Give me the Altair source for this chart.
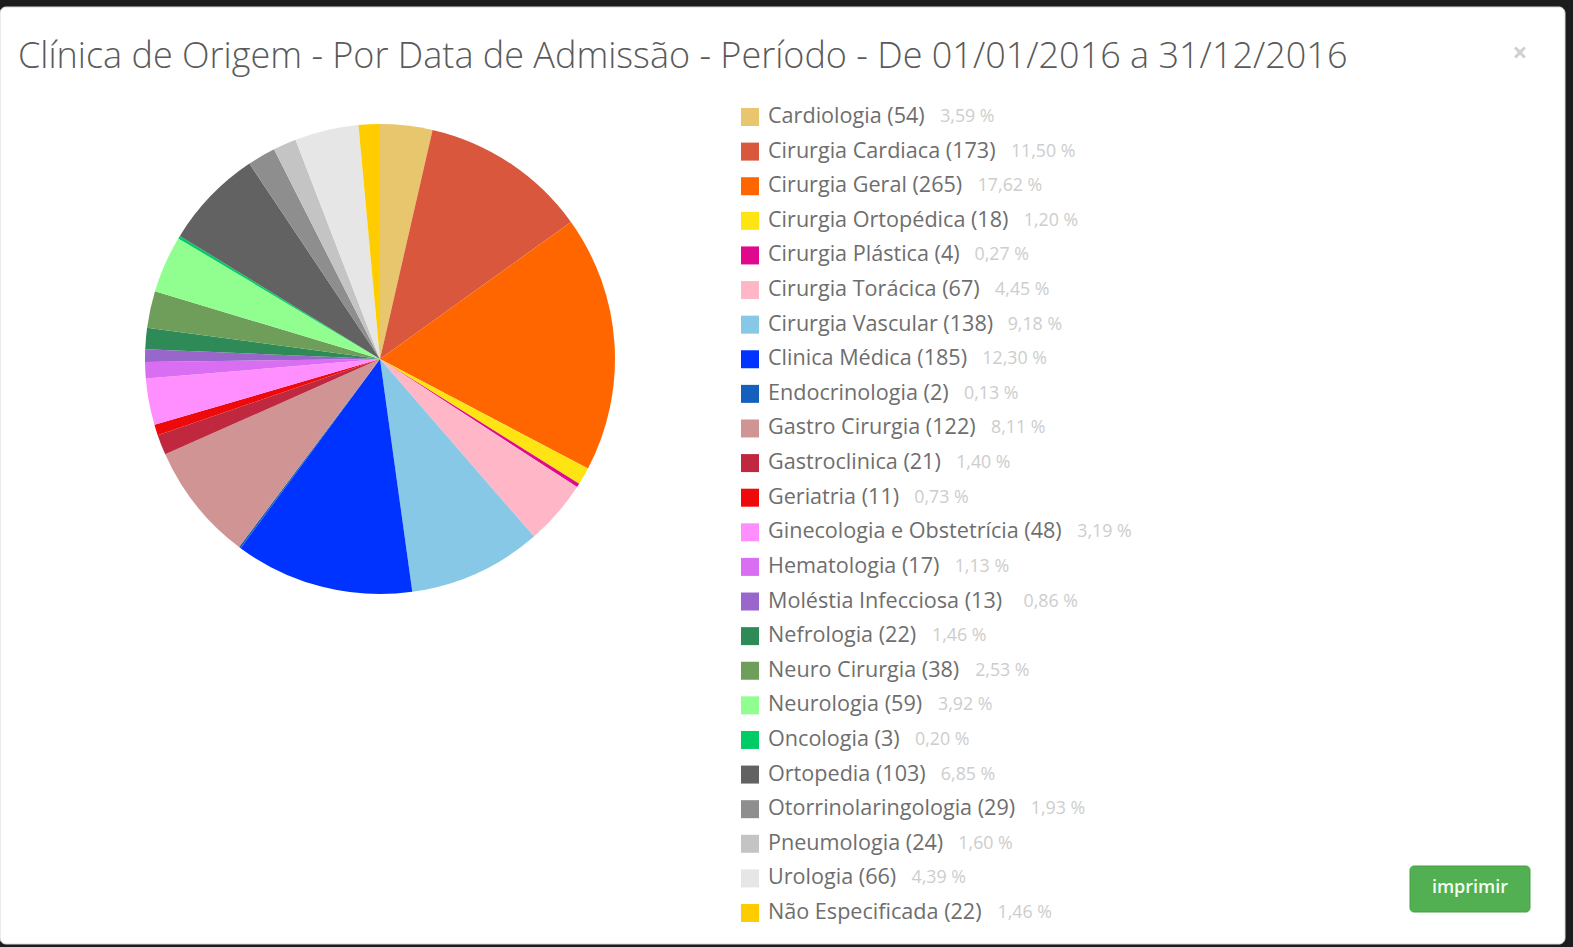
import altair as alt
import pandas as pd

# ---- data ----
names = ["Cardiologia", "Cirurgia Cardiaca", "Cirurgia Geral", "Cirurgia Ortopédica",
         "Cirurgia Plástica", "Cirurgia Torácica", "Cirurgia Vascular", "Clinica Médica",
         "Endocrinologia", "Gastro Cirurgia", "Gastroclinica", "Geriatria",
         "Ginecologia e Obstetrícia", "Hematologia", "Moléstia Infecciosa", "Nefrologia",
         "Neuro Cirurgia", "Neurologia", "Oncologia", "Ortopedia",
         "Otorrinolaringologia", "Pneumologia", "Urologia", "Não Especificada"]
counts = [54, 173, 265, 18, 4, 67, 138, 185, 2, 122, 21, 11, 48, 17, 13, 22, 38, 59, 3,
          103, 29, 24, 66, 22]
colors = ["#E8C66E", "#D9573C", "#FF6600", "#FFE414", "#E0088C", "#FFB6C6", "#86C8E6",
          "#0033FF", "#1560BD", "#D09494", "#C02840", "#EE0A0A", "#FF8EFF", "#DA6EF2",
          "#9966CC", "#2E8B57", "#6E9E5A", "#90FF90", "#00CC66", "#626262",
          "#8E8E8E", "#C4C4C4", "#E6E6E6", "#FFCC00"]
title_text = "Clínica de Origem - Por Data de Admissão - Período - De 01/01/2016 a 31/12/2016"

W, H = 1573, 947
FONT = "Open Sans"
LABEL_FS = 21.6
PCT_FS = 17.8

# approximate Open Sans advance widths (em) to place the percent after each label
cw = {" ": .26, "(": .296, ")": .296, ",": .26, "%": .84, ".": .27}
for ch in "0123456789":
    cw[ch] = .572
cw.update({"a": .556, "b": .613, "c": .478, "d": .613, "e": .561, "f": .339, "g": .548,
           "h": .614, "i": .253, "j": .253, "k": .531, "l": .253, "m": .930, "n": .614,
           "o": .604, "p": .613, "q": .613, "r": .408, "s": .477, "t": .353, "u": .614,
           "v": .501, "x": .511, "y": .503, "z": .470,
           "A": .633, "C": .631, "D": .709, "E": .556, "G": .737, "H": .734, "M": .903,
           "N": .781, "O": .780, "P": .586, "U": .728})
acc = {"á": "a", "ã": "a", "é": "e", "í": "i", "ó": "o", "ê": "e"}


def text_w(s, fs):
    return sum(cw.get(acc.get(c, c), .56) for c in s) * fs


total = sum(counts)
labels = [f"{n} ({c})" for n, c in zip(names, counts)]
pcts = [f"{c / total * 100:.2f}".replace(".", ",") + " %" for c in counts]

df = pd.DataFrame({
    "idx": list(range(len(names))),
    "name": names,
    "count": counts,
    "label": labels,
    "pct": pcts,
})
df["px"] = [768 + text_w(l, LABEL_FS) + 15 for l in labels]

color_scale = alt.Scale(domain=names, range=colors)
row_scale = alt.Scale(domain=names, range=[117, 913], type="point", padding=0)

one = pd.DataFrame({"k": [0]})

# ---- frame ----
frame_bg = alt.Chart(one).mark_rect(color="#1c1c1c").encode(
    x=alt.value(0), x2=alt.value(W), y=alt.value(0), y2=alt.value(H))
modal = alt.Chart(one).mark_rect(color="#ffffff", cornerRadius=6, stroke="#d8d8d8",
                                 strokeWidth=1).encode(
    x=alt.value(0), x2=alt.value(1565), y=alt.value(7), y2=alt.value(944))

title = alt.Chart(one).mark_text(
    text=title_text, font=FONT, fontSize=36, fontWeight=300, color="#5a5a5a",
    align="left", baseline="middle").encode(x=alt.value(18), y=alt.value(57))

close_x = alt.Chart(one).mark_text(
    text="×", font=FONT, fontSize=26, fontWeight="bold", color="#d0d0d0",
    align="center", baseline="middle").encode(x=alt.value(1520), y=alt.value(54))

# ---- pie ----
pie = alt.Chart(df).mark_arc(radius=235).encode(
    theta=alt.Theta("count:Q", stack=True),
    color=alt.Color("name:N", scale=color_scale, legend=None),
    order=alt.Order("idx:Q"),
    x=alt.value(380), y=alt.value(359),
)

# ---- legend ----
squares = alt.Chart(df).mark_square(size=324, opacity=1).encode(
    x=alt.value(750),
    y=alt.Y("name:N", scale=row_scale, axis=None, sort=names),
    color=alt.Color("name:N", scale=color_scale, legend=None),
)
lab = alt.Chart(df).mark_text(font=FONT, fontSize=LABEL_FS, color="#6e6e6e",
                              align="left", baseline="middle").encode(
    x=alt.value(768),
    y=alt.Y("name:N", scale=row_scale, axis=None, sort=names),
    text="label:N",
)
pct = alt.Chart(df).mark_text(font=FONT, fontSize=PCT_FS, color="#cdcdcd",
                              align="left", baseline="middle").encode(
    x=alt.X("px:Q", scale=None, axis=None),
    y=alt.Y("name:N", scale=row_scale, axis=None, sort=names),
    text="pct:N",
)

# ---- button ----
btn = alt.Chart(one).mark_rect(color="#52b052", cornerRadius=4, stroke="#43a043",
                               strokeWidth=1).encode(
    x=alt.value(1410), x2=alt.value(1530), y=alt.value(866), y2=alt.value(912))
btn_txt = alt.Chart(one).mark_text(text="imprimir", font=FONT, fontSize=18,
                                   fontWeight=600, color="#f4fff4", align="center",
                                   baseline="middle").encode(
    x=alt.value(1470), y=alt.value(888))

chart = alt.layer(frame_bg, modal, title, close_x, pie, squares, lab, pct, btn, btn_txt).properties(
    width=W, height=H, padding=0, autosize=alt.AutoSizeParams(type="none"),
).configure_view(stroke=None).resolve_scale(y="shared")

chart.save("out.html", embed_options={"renderer": "svg", "actions": False})
